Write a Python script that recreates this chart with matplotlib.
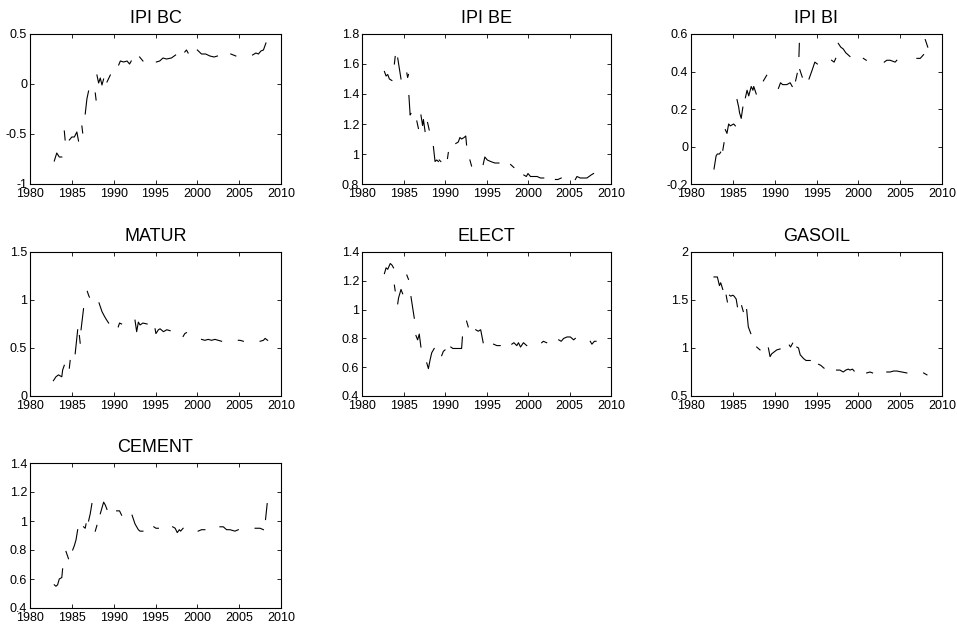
"""Seven panel plot of estimated ratios, MATLAB look."""

import numpy as np
import matplotlib
matplotlib.use("Agg")
import matplotlib.pyplot as plt
from matplotlib.ticker import FuncFormatter

# each series is a list of unbroken pieces of (year, value)
ipi_bc = [
    [(1982.9, -0.77), (1983.2, -0.69), (1983.5, -0.73), (1983.8, -0.73)],
    [(1984.1, -0.47), (1984.2, -0.56)],
    [(1984.7, -0.56), (1985.0, -0.53), (1985.3, -0.53), (1985.6, -0.48), (1985.8, -0.57)],
    [(1986.2, -0.42), (1986.3, -0.49)],
    [(1986.6, -0.30), (1986.8, -0.15), (1987.0, -0.07)],
    [(1987.8, -0.09), (1987.9, -0.16)],
    [(1988.0, 0.09), (1988.2, 0.01), (1988.4, 0.06), (1988.6, -0.01), (1988.8, 0.05)],
    [(1989.2, 0.02), (1989.6, 0.09)],
    [(1990.6, 0.19), (1990.8, 0.23), (1991.2, 0.22), (1991.6, 0.23), (1991.9, 0.20), (1992.1, 0.23)],
    [(1993.1, 0.27), (1993.5, 0.23)],
    [(1995.1, 0.22), (1995.5, 0.23), (1995.9, 0.26), (1996.3, 0.25), (1996.9, 0.26), (1997.4, 0.29)],
    [(1998.5, 0.32), (1998.7, 0.34), (1998.9, 0.31)],
    [(2000.0, 0.34), (2000.5, 0.30), (2001.0, 0.30), (2001.5, 0.28), (2002.0, 0.27), (2002.4, 0.28)],
    [(2004.0, 0.30), (2004.6, 0.28)],
    [(2006.6, 0.29), (2007.0, 0.31), (2007.3, 0.30), (2007.6, 0.33), (2007.9, 0.34), (2008.2, 0.41)],
]

ipi_be = [
    [(1982.7, 1.55), (1982.9, 1.52), (1983.1, 1.53), (1983.3, 1.50), (1983.6, 1.49)],
    [(1983.9, 1.60), (1984.0, 1.65)],
    [(1984.3, 1.64), (1984.7, 1.50)],
    [(1985.4, 1.54), (1985.5, 1.51), (1985.6, 1.53)],
    [(1985.65, 1.39), (1985.8, 1.26), (1985.9, 1.27)],
    [(1986.6, 1.22), (1986.8, 1.17)],
    [(1987.1, 1.26), (1987.3, 1.19), (1987.4, 1.23), (1987.6, 1.15)],
    [(1987.9, 1.21), (1988.1, 1.16)],
    [(1988.6, 1.05), (1988.8, 0.95), (1989.0, 0.96), (1989.2, 0.95)],
    [(1989.3, 0.96), (1989.5, 0.95)],
    [(1990.3, 0.97), (1990.4, 1.01)],
    [(1991.3, 1.07), (1991.6, 1.08), (1991.8, 1.11), (1992.0, 1.10), (1992.3, 1.11),
     (1992.5, 1.12), (1992.6, 1.06)],
    [(1993.0, 0.96), (1993.2, 0.92)],
    [(1994.6, 0.93), (1994.8, 0.98), (1995.1, 0.96), (1995.5, 0.95), (1996.0, 0.94), (1996.5, 0.94)],
    [(1997.9, 0.93), (1998.3, 0.91)],
    [(1999.5, 0.86), (1999.8, 0.85), (2000.0, 0.87), (2000.3, 0.85), (2000.7, 0.85),
     (2001.1, 0.85), (2001.5, 0.84), (2001.9, 0.84)],
    [(2003.3, 0.83), (2003.6, 0.83), (2004.0, 0.84)],
    [(2005.7, 0.83), (2005.9, 0.85), (2006.3, 0.84), (2007.1, 0.84), (2007.6, 0.86), (2007.9, 0.87)],
]

ipi_bi = [
    [(1982.75, -0.12), (1983.0, -0.05), (1983.15, -0.04), (1983.4, -0.04), (1983.55, -0.03)],
    [(1983.8, -0.02), (1983.95, 0.02)],
    [(1984.1, 0.09), (1984.3, 0.07), (1984.5, 0.12), (1984.7, 0.11), (1985.1, 0.12), (1985.3, 0.11)],
    [(1985.5, 0.25), (1985.7, 0.21), (1985.8, 0.18), (1986.0, 0.15), (1986.2, 0.21)],
    [(1986.5, 0.26), (1986.7, 0.30), (1986.9, 0.27), (1987.2, 0.32), (1987.4, 0.30),
     (1987.5, 0.32), (1987.8, 0.28)],
    [(1988.65, 0.35), (1989.05, 0.38)],
    [(1990.45, 0.31), (1990.7, 0.34), (1990.95, 0.33), (1991.45, 0.33), (1991.85, 0.34), (1992.1, 0.32)],
    [(1992.5, 0.35), (1992.7, 0.39)],
    [(1992.9, 0.48), (1992.95, 0.55)],
    [(1993.0, 0.41), (1993.3, 0.37)],
    [(1994.1, 0.36), (1994.5, 0.41), (1994.8, 0.45), (1995.1, 0.44)],
    [(1996.8, 0.46), (1997.1, 0.45), (1997.3, 0.47)],
    [(1997.6, 0.55), (1997.9, 0.53), (1998.2, 0.52), (1998.5, 0.50), (1999.0, 0.48)],
    [(2000.6, 0.47), (2000.95, 0.46)],
    [(2003.1, 0.45), (2003.4, 0.46), (2003.8, 0.46), (2004.4, 0.45), (2004.6, 0.46)],
    [(2007.0, 0.47), (2007.4, 0.47), (2007.8, 0.49)],
    [(2008.0, 0.57), (2008.3, 0.53)],
]

matur = [
    [(1982.8, 0.16), (1983.1, 0.20), (1983.4, 0.22), (1983.8, 0.20), (1983.9, 0.27), (1984.1, 0.32)],
    [(1984.7, 0.29), (1984.8, 0.37)],
    [(1985.4, 0.44), (1985.7, 0.69)],
    [(1985.9, 0.63), (1986.0, 0.55)],
    [(1986.1, 0.69), (1986.4, 0.91)],
    [(1986.85, 1.09), (1987.0, 1.05), (1987.1, 1.03)],
    [(1988.25, 0.97), (1988.6, 0.88), (1988.9, 0.83), (1989.1, 0.80), (1989.4, 0.76)],
    [(1990.55, 0.72), (1990.7, 0.76), (1990.95, 0.75)],
    [(1992.55, 0.79), (1992.75, 0.67), (1992.95, 0.77), (1993.15, 0.74), (1993.5, 0.76), (1994.0, 0.75)],
    [(1994.95, 0.70), (1995.05, 0.65), (1995.35, 0.69), (1995.55, 0.70), (1995.95, 0.67),
     (1996.35, 0.69), (1996.75, 0.68)],
    [(1998.3, 0.62), (1998.5, 0.65), (1998.7, 0.66)],
    [(2000.5, 0.59), (2000.9, 0.58), (2001.3, 0.59), (2001.7, 0.58), (2002.1, 0.59),
     (2002.5, 0.58), (2002.9, 0.57)],
    [(2004.9, 0.58), (2005.1, 0.58), (2005.5, 0.57)],
    [(2007.5, 0.57), (2007.9, 0.58), (2008.1, 0.60), (2008.4, 0.58)],
]

elect = [
    [(1982.7, 1.25), (1982.9, 1.29), (1983.1, 1.28), (1983.4, 1.32), (1983.6, 1.31), (1983.8, 1.29)],
    [(1983.9, 1.17), (1984.0, 1.13)],
    [(1984.3, 1.04), (1984.4, 1.08), (1984.7, 1.14), (1984.9, 1.11)],
    [(1985.4, 1.24), (1985.6, 1.21)],
    [(1985.9, 1.09), (1986.3, 0.94)],
    [(1986.5, 0.82), (1986.7, 0.79), (1986.9, 0.83), (1987.1, 0.74)],
    [(1987.8, 0.63), (1988.0, 0.59), (1988.2, 0.65), (1988.4, 0.70), (1988.7, 0.73)],
    [(1989.6, 0.68), (1989.8, 0.71), (1990.0, 0.72)],
    [(1990.7, 0.74), (1990.95, 0.73), (1991.4, 0.73), (1992.0, 0.73), (1992.1, 0.81)],
    [(1992.6, 0.92), (1992.8, 0.88)],
    [(1993.7, 0.86), (1994.0, 0.85), (1994.3, 0.86), (1994.6, 0.77)],
    [(1995.85, 0.76), (1996.25, 0.75), (1996.65, 0.75)],
    [(1998.05, 0.76), (1998.3, 0.77), (1998.65, 0.75), (1998.85, 0.77), (1999.1, 0.74),
     (1999.45, 0.77), (1999.85, 0.75)],
    [(2001.65, 0.77), (2001.85, 0.78), (2002.25, 0.77)],
    [(2003.7, 0.79), (2004.0, 0.78), (2004.3, 0.80), (2004.7, 0.81), (2005.1, 0.81),
     (2005.5, 0.79), (2005.7, 0.80)],
    [(2007.5, 0.78), (2007.7, 0.76), (2008.0, 0.78), (2008.2, 0.78)],
]

gasoil = [
    [(1982.75, 1.74), (1983.15, 1.74), (1983.4, 1.65), (1983.55, 1.68), (1983.8, 1.61)],
    [(1984.2, 1.55), (1984.35, 1.48)],
    [(1984.6, 1.55), (1984.75, 1.54), (1985.0, 1.55), (1985.15, 1.54), (1985.4, 1.51), (1985.55, 1.43)],
    [(1986.05, 1.44), (1986.25, 1.38)],
    [(1986.65, 1.40), (1986.85, 1.22), (1987.15, 1.15)],
    [(1987.85, 1.01), (1988.25, 0.98)],
    [(1989.25, 1.00), (1989.45, 0.91), (1989.65, 0.94), (1990.25, 0.98), (1990.65, 0.99)],
    [(1991.75, 1.03), (1991.9, 1.01), (1992.15, 1.05)],
    [(1992.65, 1.01), (1992.85, 1.00), (1993.05, 0.93), (1993.45, 0.89), (1993.75, 0.87), (1994.25, 0.87)],
    [(1995.25, 0.83), (1995.5, 0.82), (1995.9, 0.79)],
    [(1997.4, 0.77), (1997.8, 0.77), (1998.2, 0.75), (1998.5, 0.77), (1998.8, 0.78),
     (1999.0, 0.77), (1999.3, 0.78), (1999.5, 0.76)],
    [(2001.0, 0.74), (2001.4, 0.75), (2001.7, 0.74)],
    [(2003.4, 0.75), (2003.8, 0.75), (2004.2, 0.76), (2004.6, 0.76), (2005.2, 0.75), (2005.8, 0.74)],
    [(2007.8, 0.74), (2008.2, 0.72)],
]

cement = [
    [(1982.9, 0.56), (1983.1, 0.55), (1983.3, 0.56), (1983.5, 0.60), (1983.8, 0.61), (1983.9, 0.67)],
    [(1984.3, 0.79), (1984.6, 0.74)],
    [(1985.1, 0.80), (1985.3, 0.83), (1985.5, 0.87), (1985.7, 0.94)],
    [(1986.4, 0.96), (1986.6, 0.95), (1986.7, 0.98)],
    [(1987.0, 1.00), (1987.2, 1.05), (1987.4, 1.12)],
    [(1987.8, 0.93), (1988.0, 0.97)],
    [(1988.4, 1.05), (1988.8, 1.13), (1989.0, 1.11), (1989.2, 1.08)],
    [(1990.35, 1.07), (1990.7, 1.07), (1990.95, 1.04)],
    [(1992.2, 1.04), (1992.55, 0.98), (1992.95, 0.94), (1993.15, 0.93), (1993.5, 0.93)],
    [(1994.8, 0.96), (1995.05, 0.95), (1995.35, 0.95)],
    [(1997.05, 0.96), (1997.35, 0.95), (1997.6, 0.92), (1997.85, 0.94), (1998.0, 0.93), (1998.3, 0.95)],
    [(2000.1, 0.93), (2000.5, 0.94), (2000.9, 0.94)],
    [(2002.7, 0.96), (2003.1, 0.96), (2003.5, 0.94), (2003.9, 0.94), (2004.5, 0.93), (2004.9, 0.94)],
    [(2006.9, 0.95), (2007.5, 0.95), (2007.9, 0.94)],
    [(2008.15, 1.01), (2008.35, 1.12)],
]

titles = ["IPI BC", "IPI BE", "IPI BI", "MATUR", "ELECT", "GASOIL", "CEMENT"]
series = [ipi_bc, ipi_be, ipi_bi, matur, elect, gasoil, cement]
year_ticks = [1980, 1985, 1990, 1995, 2000, 2005, 2010]
y_ticks = [
    [-1, -0.5, 0, 0.5],
    [0.8, 1, 1.2, 1.4, 1.6, 1.8],
    [-0.2, 0, 0.2, 0.4, 0.6],
    [0, 0.5, 1, 1.5],
    [0.4, 0.6, 0.8, 1, 1.2, 1.4],
    [0.5, 1, 1.5, 2],
    [0.4, 0.6, 0.8, 1, 1.2, 1.4],
]


def to_xy(pieces):
    xs, ys = [], []
    for piece in pieces:
        for x, y in piece:
            xs.append(x)
            ys.append(y)
        xs.append(np.nan)
        ys.append(np.nan)
    return np.array(xs), np.array(ys)


plt.rcParams["font.family"] = ["Liberation Sans", "DejaVu Sans"]

W, H = 957, 624
fig = plt.figure(figsize=(W / 100, H / 100), dpi=100)

# pixel boxes (left, right) and (top, bottom) of the grid
cols = [(30, 281), (362, 611), (691, 942)]
rows = [(34, 184), (252, 396), (463, 608)]

for i, (name, pieces, yt) in enumerate(zip(titles, series, y_ticks)):
    (l, r), (t, b) = cols[i % 3], rows[i // 3]
    ax = fig.add_axes([l / W, 1 - b / H, (r - l) / W, (b - t) / H])
    x, y = to_xy(pieces)
    ax.plot(x, y, color="black", linewidth=0.8)
    ax.set_xlim(year_ticks[0], year_ticks[-1])
    ax.set_ylim(yt[0], yt[-1])
    ax.set_xticks(year_ticks)
    ax.set_yticks(yt)
    ax.yaxis.set_major_formatter(FuncFormatter(lambda v, p: f"{v:g}"))
    ax.tick_params(direction="in", length=3, width=0.6, labelsize=9,
                   top=True, right=True)
    ax.tick_params(axis="x", pad=3)
    ax.tick_params(axis="y", pad=2)
    for s in ax.spines.values():
        s.set_linewidth(0.8)
    ax.set_title(name, fontsize=13, pad=8)

fig.savefig("out.png", dpi=100)
